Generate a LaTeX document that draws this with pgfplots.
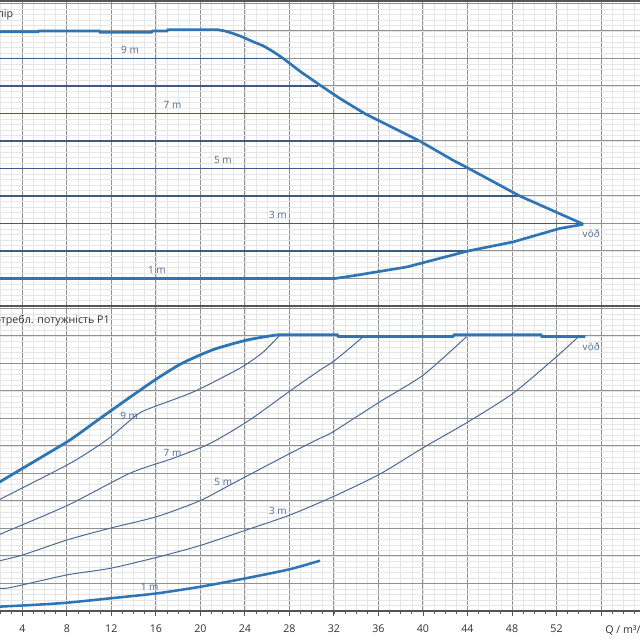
\documentclass[border=0pt]{standalone}
\usepackage{fontspec}
\setmainfont{Open Sans}
\usepackage{pgfplots}
\pgfplotsset{compat=1.18}
\definecolor{mainblue}{RGB}{46,117,182}
\definecolor{navyline}{RGB}{62,90,132}
\definecolor{thinblue}{RGB}{76,106,152}
\definecolor{lbl}{RGB}{80,108,148}
\definecolor{majgrid}{RGB}{145,145,145}
\definecolor{mingrid}{RGB}{230,230,230}
\definecolor{axisgray}{RGB}{85,85,85}
\definecolor{txt}{RGB}{50,50,50}
\tikzset{lab/.style={font=\fontsize{7.5}{9}\selectfont, text=lbl, inner sep=0pt}}
\begin{document}
\begin{tikzpicture}
\useasboundingbox (0pt,0pt) rectangle (480pt,480pt);
\pgfplotsset{
  panel/.style={
    scale only axis, width=480pt, height=228.75pt,
    xmin=1.996, xmax=59.5, ymin=0, ymax=11.09,
    xtick={4,8,...,56}, minor xtick={1,2,...,59},
    ytick={0,1,...,11}, minor ytick={0,0.2,...,11},
    grid=both,
    major grid style={draw=majgrid, line width=0.75pt},
    minor grid style={draw=mingrid, line width=0.5pt},
    separate axis lines,
    y axis line style={draw=none},
    x axis line style={draw=axisgray, line width=1.1pt},
    yticklabels={}, ytick style={draw=none},
    clip=true,
  },
}
% ---------------- top panel: head ----------------
\begin{axis}[panel, at={(0pt,250.5pt)}, anchor=south west,
  xticklabels={}, xtick style={draw=none}, minor tick length=0pt, major tick length=0pt]
\addplot[navyline, line width=0.9pt] coordinates {(1.9,9) (27.5,9)};
\addplot[navyline, line width=0.9pt] coordinates {(1.9,8) (30.6,8)};
\addplot[navyline, line width=0.9pt] coordinates {(1.9,7) (34.8,7)};
\addplot[navyline, line width=0.9pt] coordinates {(1.9,6) (39.7,6)};
\addplot[navyline, line width=0.9pt] coordinates {(1.9,5) (43.95,5)};
\addplot[navyline, line width=0.9pt] coordinates {(1.9,4) (48.7,4)};
\addplot[navyline, line width=0.9pt] coordinates {(1.9,3) (54.2,3)};
\addplot[navyline, line width=0.9pt] coordinates {(1.9,2) (44.05,2)};
% max curve
\addplot[mainblue, line width=2pt] coordinates {
(1.9,9.97) (5.4,9.97) (5.5,10.0) (10.9,10.0) (11.0,9.95) (15.6,9.95) (15.7,10.0)
(17.0,10.0) (17.1,10.05) (21.5,10.05) (22.2,10.0) (22.93,9.91) (23.8,9.78) (24.73,9.61) (25.65,9.46)
(26.5,9.26) (27.45,9.0) (29.0,8.52) (30.75,8.03) (32.6,7.53) (34.76,7.0) (39.7,6.0) (42.7,5.3) (43.93,5.04)
(48.7,4.0) (54.1,3.03) (54.4,2.97)};
% min curve
\addplot[mainblue, line width=2pt] coordinates {
(1.9,1.0) (32.1,1.0) (33.9,1.11) (35.85,1.24) (38.56,1.42) (41.2,1.7) (44.05,2.0)
(48.1,2.33) (52.3,2.82) (54.4,2.97)};
\node[lab] at (axis cs:13.68,9.31) {9 m};
\node[lab] at (axis cs:17.5,7.31) {7 m};
\node[lab] at (axis cs:22.03,5.31) {5 m};
\node[lab] at (axis cs:26.97,3.31) {3 m};
\node[lab] at (axis cs:16.1,1.31) {1 m};
\node[lab] at (axis cs:55.12,2.64) {vöð};
\end{axis}
% ---------------- bottom panel: power ----------------
\begin{axis}[panel, at={(0pt,21.75pt)}, anchor=south west,
  xtick pos=bottom, tick align=outside,
  major tick length=3.75pt, minor tick length=2.2pt,
  xtick style={draw=axisgray, line width=0.7pt},
  minor x tick style={draw=axisgray, line width=0.6pt},
  xticklabels={4,8,12,16,20,24,28,32,36,40,44,48,52,{}},
  xticklabel style={font=\fontsize{8}{9}\selectfont, text=txt, yshift=-3pt},
  /pgf/number format/assume math mode=true]
% max power
\addplot[mainblue, line width=2.1pt, smooth, tension=0.4] coordinates {
(1.9,4.66) (2.0,4.70) (5.29,5.49) (8.29,6.22) (10.98,7.0) (13.95,7.85) (16.1,8.45)
(18.32,9.0) (21.13,9.5) (24.16,9.85) (26.85,10.04)};
\addplot[mainblue, line width=2.1pt] coordinates {
(26.85,10.04) (32.3,10.04) (32.4,9.98)
(42.7,9.98) (42.8,10.04) (50.6,10.04) (50.7,9.98) (54.6,9.98)};
% 9 m
\addplot[thinblue, line width=0.75pt, smooth, tension=0.4] coordinates {
(1.9,4.02) (2.0,4.06) (8.29,5.37) (11.58,6.22) (14.28,7.13) (15.47,7.37)
(19.39,7.97) (23.56,8.83) (25.6,9.4) (27.16,10.04)};
% 7 m
\addplot[thinblue, line width=0.75pt, smooth, tension=0.4] coordinates {
(1.9,2.76) (2.0,2.79) (8.11,3.85) (13.68,5.01) (17.54,5.55) (19.97,5.93)
(21.47,6.22) (24.45,6.95) (28.05,8.0) (30.75,8.76) (31.94,9.07) (33.4,9.55) (34.64,9.98)};
% 5 m
\addplot[thinblue, line width=0.75pt, smooth, tension=0.4] coordinates {
(1.9,1.81) (2.0,1.83) (4.06,2.04) (7.99,2.58) (11.88,3.01) (16.08,3.43)
(19.97,4.01) (22.93,4.64) (28.05,5.73) (30.75,6.28) (31.94,6.52) (36.14,7.61)
(40.03,8.58) (43.93,9.98)};
% 3 m
\addplot[thinblue, line width=0.75pt, smooth, tension=0.4] coordinates {
(1.9,0.83) (2.90,0.85) (7.99,1.31) (11.88,1.55) (16.08,1.95) (19.97,2.38)
(24.16,2.95) (28.05,3.49) (31.94,4.16) (36.14,4.98) (40.03,5.94) (44.07,6.88)
(48.11,7.92) (52.01,9.25) (53.96,9.97)};
% 1 m
\addplot[mainblue, line width=1.9pt, smooth, tension=0.4] coordinates {
(1.9,0.16) (2.0,0.16) (4.96,0.22) (7.99,0.30) (11.88,0.46) (16.08,0.64)
(19.97,0.88) (24.10,1.19) (28.05,1.52) (30.75,1.83)};
\node[lab] at (axis cs:13.6,7.10) {9 m};
\node[lab] at (axis cs:17.5,5.76) {7 m};
\node[lab] at (axis cs:22.06,4.70) {5 m};
\node[lab] at (axis cs:26.97,3.64) {3 m};
\node[lab] at (axis cs:15.45,0.87) {1 m};
\node[lab] at (axis cs:55.12,9.61) {vöð};
\end{axis}
\node[anchor=base east, inner sep=0pt, text=txt, font=\fontsize{8}{9}\selectfont] at (10.1pt,467pt) {Напір};
\node[anchor=base east, inner sep=0pt, text=txt, font=\fontsize{8}{9}\selectfont] at (82.5pt,237pt) {Потребл. потужність P1};
\node[anchor=west, inner sep=0pt, text=txt, font=\fontsize{8}{9}\selectfont] at (453.75pt,7.5pt) {Q / m³/h};
\end{tikzpicture}
\end{document}
